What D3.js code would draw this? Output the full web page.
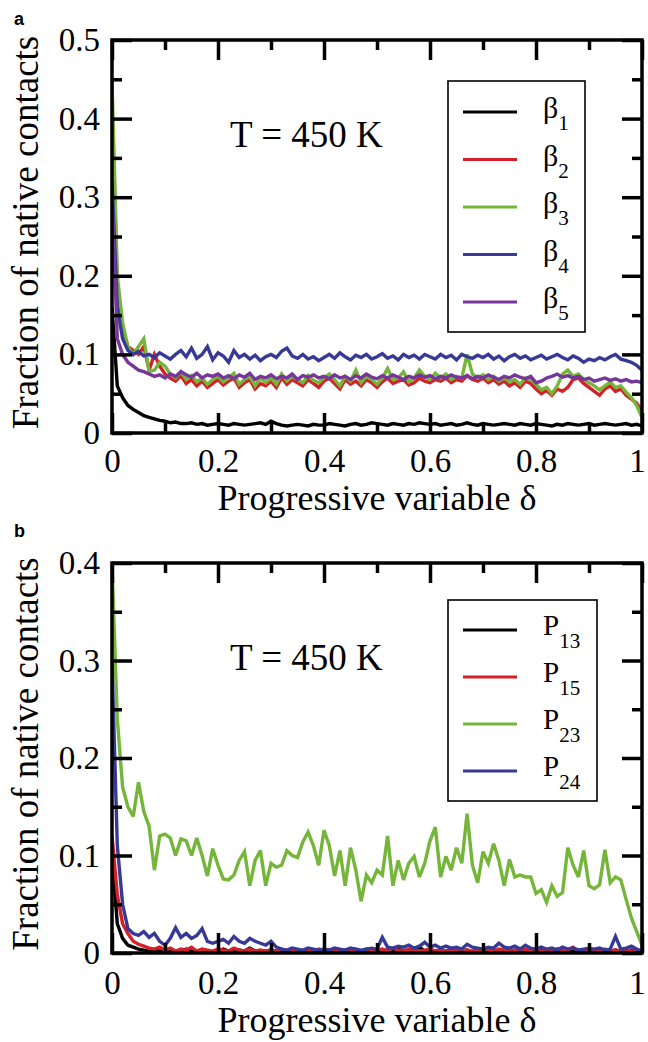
<!DOCTYPE html>
<html><head><meta charset="utf-8">
<script src="https://cdn.jsdelivr.net/npm/d3@7"></script>
<style>
html,body{margin:0;padding:0;background:#fff;}
svg{display:block;}
text{font-family:"Liberation Serif","Times New Roman",serif;fill:#000;}
</style></head>
<body><svg id="chart" width="648" height="1042"></svg>
<script>
// ---------- DATA ----------
const delta = d3.range(0, 101).map(i => i / 100);
const xTickLabels = ["0", "0.2", "0.4", "0.6", "0.8", "1"];
const xTickValues = [0, 0.2, 0.4, 0.6, 0.8, 1];
const xMinorValues = [0.1, 0.3, 0.5, 0.7, 0.9];
const yTicksA = [0, 0.1, 0.2, 0.3, 0.4, 0.5];
const yTickLabelsA = ["0", "0.1", "0.2", "0.3", "0.4", "0.5"];
const yMinorA = [0.05, 0.15, 0.25, 0.35, 0.45];
const yTicksB = [0, 0.1, 0.2, 0.3, 0.4];
const yTickLabelsB = ["0", "0.1", "0.2", "0.3", "0.4"];
const yMinorB = [0.05, 0.15, 0.25, 0.35];
const tempLabel = "T = 450 K";
const xTitle = "Progressive variable δ";
const yTitle = "Fraction of native contacts";

const namesA = ["1", "2", "3", "4", "5"];
const namesB = ["13", "15", "23", "24"];

const beta1 = [
0.16,0.06,0.045,0.035,0.03,0.026,0.022,0.02,0.018,0.016,
0.015,0.013,0.014,0.012,0.012,0.013,0.011,0.012,0.010,0.011,
0.012,0.011,0.010,0.012,0.011,0.010,0.011,0.012,0.013,0.011,
0.015,0.012,0.010,0.009,0.010,0.011,0.010,0.009,0.011,0.010,
0.010,0.012,0.011,0.010,0.009,0.011,0.012,0.010,0.011,0.013,
0.012,0.011,0.010,0.012,0.011,0.010,0.012,0.011,0.013,0.012,
0.011,0.012,0.010,0.011,0.012,0.010,0.011,0.013,0.011,0.010,
0.012,0.011,0.010,0.011,0.012,0.011,0.010,0.012,0.011,0.010,
0.012,0.011,0.010,0.009,0.011,0.010,0.012,0.011,0.010,0.011,
0.012,0.010,0.011,0.012,0.011,0.010,0.011,0.012,0.010,0.011,
0.009];
const beta2 = [
0.42,0.19,0.13,0.11,0.105,0.10,0.11,0.08,0.10,0.085,
0.075,0.07,0.066,0.073,0.063,0.068,0.06,0.066,0.058,0.063,
0.068,0.061,0.066,0.07,0.058,0.064,0.068,0.056,0.063,0.06,
0.066,0.058,0.07,0.062,0.068,0.064,0.06,0.068,0.063,0.058,
0.066,0.07,0.063,0.056,0.068,0.062,0.066,0.06,0.068,0.064,
0.058,0.065,0.07,0.063,0.066,0.068,0.061,0.064,0.07,0.066,
0.064,0.068,0.066,0.07,0.064,0.068,0.066,0.073,0.068,0.066,
0.07,0.064,0.068,0.062,0.066,0.06,0.064,0.058,0.066,0.063,
0.056,0.05,0.054,0.048,0.056,0.053,0.058,0.068,0.07,0.063,
0.058,0.053,0.048,0.056,0.06,0.053,0.056,0.048,0.043,0.038,
0.028];
const beta3 = [
0.45,0.2,0.14,0.11,0.10,0.11,0.12,0.078,0.08,0.09,
0.085,0.075,0.07,0.078,0.068,0.073,0.065,0.07,0.062,0.068,
0.072,0.065,0.07,0.076,0.062,0.068,0.072,0.06,0.07,0.064,
0.07,0.062,0.075,0.066,0.072,0.068,0.064,0.073,0.067,0.064,
0.07,0.075,0.068,0.06,0.072,0.066,0.08,0.064,0.072,0.068,
0.062,0.07,0.082,0.068,0.07,0.078,0.065,0.07,0.08,0.072,
0.068,0.076,0.07,0.075,0.068,0.072,0.07,0.1,0.075,0.07,
0.074,0.068,0.072,0.066,0.07,0.065,0.068,0.062,0.07,0.068,
0.062,0.055,0.058,0.05,0.06,0.075,0.08,0.072,0.075,0.068,
0.064,0.06,0.055,0.06,0.065,0.058,0.06,0.052,0.045,0.035,
0.02];
const beta4 = [
0.32,0.16,0.12,0.105,0.1,0.104,0.098,0.1,0.096,0.102,
0.098,0.094,0.1,0.105,0.097,0.108,0.095,0.1,0.11,0.093,
0.102,0.098,0.09,0.105,0.096,0.1,0.094,0.099,0.092,0.097,
0.1,0.096,0.104,0.108,0.098,0.095,0.1,0.094,0.097,0.092,
0.096,0.1,0.095,0.102,0.097,0.093,0.099,0.096,0.1,0.094,
0.097,0.101,0.095,0.098,0.093,0.1,0.096,0.099,0.094,0.1,
0.097,0.094,0.1,0.096,0.099,0.093,0.1,0.097,0.095,0.099,
0.096,0.1,0.094,0.098,0.092,0.097,0.1,0.095,0.098,0.093,
0.096,0.099,0.094,0.097,0.1,0.096,0.093,0.098,0.095,0.09,
0.094,0.092,0.096,0.093,0.097,0.1,0.094,0.092,0.09,0.086,
0.08];
const beta5 = [
0.3,0.12,0.1,0.09,0.085,0.08,0.078,0.075,0.072,0.074,
0.07,0.075,0.072,0.078,0.074,0.071,0.076,0.07,0.074,0.072,
0.075,0.07,0.073,0.069,0.074,0.071,0.076,0.068,0.072,0.07,
0.074,0.069,0.072,0.07,0.075,0.068,0.073,0.071,0.074,0.07,
0.072,0.069,0.074,0.07,0.072,0.068,0.073,0.07,0.075,0.071,
0.069,0.073,0.07,0.074,0.071,0.068,0.072,0.07,0.074,0.071,
0.073,0.069,0.072,0.07,0.074,0.071,0.07,0.073,0.069,0.072,
0.07,0.074,0.071,0.068,0.072,0.07,0.074,0.071,0.069,0.072,
0.064,0.066,0.07,0.072,0.075,0.071,0.073,0.07,0.072,0.068,
0.07,0.066,0.068,0.07,0.067,0.069,0.066,0.068,0.065,0.066,
0.064];

const p13 = [
0.1,0.03,0.015,0.008,0.006,0.004,0.003,0.002,0.003,0.002,
0.002,0.003,0.001,0.002,0.004,0.002,0.001,0.003,0.002,0.001,
0.002,0.004,0.002,0.001,0.003,0.002,0.005,0.002,0.001,0.002,
0.003,0.002,0.001,0.002,0.004,0.002,0.001,0.003,0.002,0.001,
0.002,0.003,0.002,0.001,0.002,0.003,0.001,0.002,0.004,0.002,
0.001,0.002,0.003,0.002,0.004,0.002,0.001,0.003,0.006,0.002,
0.001,0.002,0.003,0.002,0.001,0.004,0.002,0.003,0.001,0.002,
0.003,0.002,0.001,0.002,0.003,0.001,0.002,0.004,0.002,0.001,
0.002,0.003,0.001,0.002,0.004,0.002,0.001,0.002,0.003,0.001,
0.002,0.003,0.002,0.001,0.002,0.003,0.001,0.002,0.003,0.001,
0.001];
const p15 = [
0.12,0.06,0.03,0.02,0.012,0.009,0.007,0.005,0.004,0.006,
0.003,0.005,0.002,0.004,0.003,0.006,0.002,0.004,0.003,0.002,
0.004,0.003,0.002,0.005,0.003,0.002,0.004,0.002,0.003,0.002,
0.003,0.002,0.004,0.002,0.003,0.002,0.001,0.003,0.002,0.004,
0.002,0.003,0.002,0.001,0.003,0.002,0.004,0.002,0.003,0.002,
0.003,0.004,0.002,0.005,0.003,0.002,0.004,0.003,0.002,0.003,
0.004,0.002,0.003,0.002,0.004,0.003,0.002,0.003,0.002,0.004,
0.002,0.003,0.002,0.004,0.003,0.002,0.003,0.002,0.004,0.002,
0.003,0.002,0.003,0.002,0.004,0.002,0.003,0.006,0.002,0.003,
0.002,0.003,0.002,0.004,0.002,0.003,0.002,0.003,0.002,0.002,
0.001];
const p23 = [
0.40,0.24,0.17,0.15,0.14,0.175,0.145,0.13,0.085,0.12,
0.122,0.118,0.1,0.117,0.115,0.1,0.118,0.1,0.079,0.107,
0.09,0.076,0.075,0.08,0.095,0.104,0.069,0.095,0.105,0.069,
0.092,0.088,0.09,0.105,0.1,0.098,0.114,0.124,0.11,0.09,
0.126,0.11,0.079,0.105,0.069,0.108,0.085,0.053,0.08,0.072,
0.085,0.08,0.12,0.069,0.095,0.075,0.092,0.099,0.078,0.092,
0.115,0.129,0.078,0.099,0.085,0.108,0.092,0.143,0.09,0.072,
0.104,0.092,0.112,0.095,0.069,0.096,0.078,0.08,0.078,0.078,
0.061,0.065,0.052,0.069,0.058,0.062,0.108,0.09,0.078,0.105,
0.069,0.066,0.07,0.106,0.072,0.078,0.075,0.055,0.036,0.022,
0.008];
const p24 = [
0.30,0.11,0.05,0.025,0.02,0.018,0.022,0.016,0.02,0.012,
0.008,0.015,0.026,0.016,0.02,0.015,0.018,0.025,0.012,0.01,
0.012,0.014,0.01,0.017,0.012,0.01,0.015,0.012,0.01,0.008,
0.012,0.006,0.004,0.003,0.005,0.004,0.003,0.005,0.004,0.003,
0.004,0.003,0.005,0.004,0.003,0.005,0.004,0.003,0.004,0.005,
0.004,0.016,0.006,0.005,0.007,0.006,0.008,0.005,0.007,0.011,
0.006,0.008,0.005,0.007,0.005,0.006,0.004,0.009,0.006,0.005,
0.004,0.006,0.005,0.01,0.006,0.005,0.007,0.004,0.008,0.005,
0.004,0.006,0.004,0.005,0.003,0.006,0.004,0.005,0.003,0.004,
0.005,0.004,0.005,0.003,0.004,0.017,0.004,0.005,0.007,0.004,
0.002];

const colorsA = ["#000000", "#d42027", "#74b53a", "#363a96", "#76369a"];
const colorsB = ["#000000", "#d42027", "#74b53a", "#363a96"];

// ---------- DRAW ----------
const svg = d3.select("#chart");

function panel(cfg) {
  const x = d3.scaleLinear().domain([0, 1]).range([cfg.left, cfg.right]);
  const y = d3.scaleLinear().domain([0, cfg.ymax]).range([cfg.bottom, cfg.top]);
  const g = svg.append("g");

  const cid = "clip" + cfg.id;
  svg.append("clipPath").attr("id", cid).append("rect")
    .attr("x", cfg.left).attr("y", cfg.top)
    .attr("width", cfg.right - cfg.left).attr("height", cfg.bottom - cfg.top);

  // lines
  const line = d3.line().x((d, i) => x(delta[i])).y(d => y(d));
  const lg = g.append("g").attr("clip-path", `url(#${cid})`);
  cfg.series.forEach((s, k) => {
    lg.append("path").datum(s).attr("d", line)
      .attr("fill", "none").attr("stroke", cfg.colors[k])
      .attr("stroke-width", 3.4).attr("stroke-linejoin", "miter").attr("stroke-miterlimit", 3);
  });

  // axes
  const tickStyle = sel => {
    sel.select(".domain").remove();
    sel.selectAll(".tick line").attr("stroke", "#000").attr("stroke-width", 3.5);
    sel.selectAll("text").style("font-size", "33px").style("font-family", '"Liberation Serif", serif').attr("fill", "#000");
  };
  const bottomAxis = g.append("g").attr("transform", `translate(0,${cfg.bottom})`)
    .call(d3.axisBottom(x).tickValues(xTickValues).tickSize(-20).tickPadding(cfg.xpad)
      .tickFormat((d, i) => xTickLabels[i])).call(tickStyle);
  bottomAxis.selectAll(".tick text").filter(d => d === 1).attr("dx", "-5");
  g.append("g").attr("transform", `translate(0,${cfg.bottom})`)
    .call(d3.axisBottom(x).tickValues(xMinorValues).tickSize(-10).tickFormat("")).call(tickStyle);
  g.append("g").attr("transform", `translate(0,${cfg.top})`)
    .call(d3.axisTop(x).tickValues(xTickValues).tickSize(-20).tickFormat("")).call(tickStyle);
  g.append("g").attr("transform", `translate(0,${cfg.top})`)
    .call(d3.axisTop(x).tickValues(xMinorValues).tickSize(-10).tickFormat("")).call(tickStyle);
  g.append("g").attr("transform", `translate(${cfg.left},0)`)
    .call(d3.axisLeft(y).tickValues(cfg.yTicks).tickSize(-20).tickPadding(12)
      .tickFormat((d, i) => cfg.yLabels[i])).call(tickStyle);
  g.append("g").attr("transform", `translate(${cfg.left},0)`)
    .call(d3.axisLeft(y).tickValues(cfg.yMinor).tickSize(-10).tickFormat("")).call(tickStyle);
  g.append("g").attr("transform", `translate(${cfg.right},0)`)
    .call(d3.axisRight(y).tickValues(cfg.yTicks).tickSize(-20).tickFormat("")).call(tickStyle);
  g.append("g").attr("transform", `translate(${cfg.right},0)`)
    .call(d3.axisRight(y).tickValues(cfg.yMinor).tickSize(-10).tickFormat("")).call(tickStyle);

  // frame
  g.append("rect").attr("x", cfg.left).attr("y", cfg.top)
    .attr("width", cfg.right - cfg.left).attr("height", cfg.bottom - cfg.top)
    .attr("fill", "none").attr("stroke", "#000").attr("stroke-width", 3.5);

  // titles
  g.append("text").attr("x", (cfg.left + cfg.right) / 2).attr("y", cfg.xTitleY)
    .attr("text-anchor", "middle").style("font-size", "36px").text(xTitle);
  g.append("text").attr("transform", `translate(38,${(cfg.top + cfg.bottom) / 2 - 4}) rotate(-90)`)
    .attr("text-anchor", "middle").style("font-size", "37px").text(yTitle);
  g.append("text").attr("x", 230).attr("y", cfg.tempY)
    .style("font-size", "37px").text(tempLabel);
  g.append("text").attr("x", 14).attr("y", cfg.letterY)
    .style("font-family", '"Liberation Sans", Arial, sans-serif').style("font-weight", "bold")
    .style("font-size", "18px").text(cfg.id);

  // legend
  const L = cfg.legend;
  g.append("rect").attr("x", L.x).attr("y", L.y).attr("width", L.w).attr("height", L.h)
    .attr("fill", "#fff").attr("stroke", "#000").attr("stroke-width", 1.6);
  cfg.names.forEach((n, k) => {
    const ry = L.row0 + k * L.dy;
    g.append("line").attr("x1", L.x + 15).attr("x2", L.x + 69).attr("y1", ry).attr("y2", ry)
      .attr("stroke", cfg.colors[k]).attr("stroke-width", 3.2);
    const t = g.append("text").attr("x", L.x + 95).attr("y", ry + L.baseOff)
      .style("font-size", L.fs + "px");
    t.append("tspan").text(cfg.symbol);
    t.append("tspan").attr("dy", L.subDy).style("font-size", L.subFs + "px").text(n);
  });
}

panel({
  id: "a", left: 112, right: 642, top: 40, bottom: 433, ymax: 0.5,
  yTicks: yTicksA, yLabels: yTickLabelsA, yMinor: yMinorA,
  series: [beta1, beta2, beta3, beta4, beta5], colors: colorsA, names: namesA, symbol: "β",
  xpad: 16, xTitleY: 510, tempY: 147, letterY: 25,
  legend: { x: 448, y: 81, w: 137, h: 251, row0: 112, dy: 47.5, baseOff: 6, fs: 30, subFs: 21, subDy: 12 }
});
panel({
  id: "b", left: 112, right: 642, top: 563, bottom: 953, ymax: 0.4,
  yTicks: yTicksB, yLabels: yTickLabelsB, yMinor: yMinorB,
  series: [p13, p15, p23, p24], colors: colorsB, names: namesB, symbol: "P",
  xpad: 18, xTitleY: 1032, tempY: 670, letterY: 537,
  legend: { x: 448, y: 600, w: 149, h: 201, row0: 630, dy: 47, baseOff: 5, fs: 29, subFs: 21, subDy: 13 }
});
</script></body></html>
